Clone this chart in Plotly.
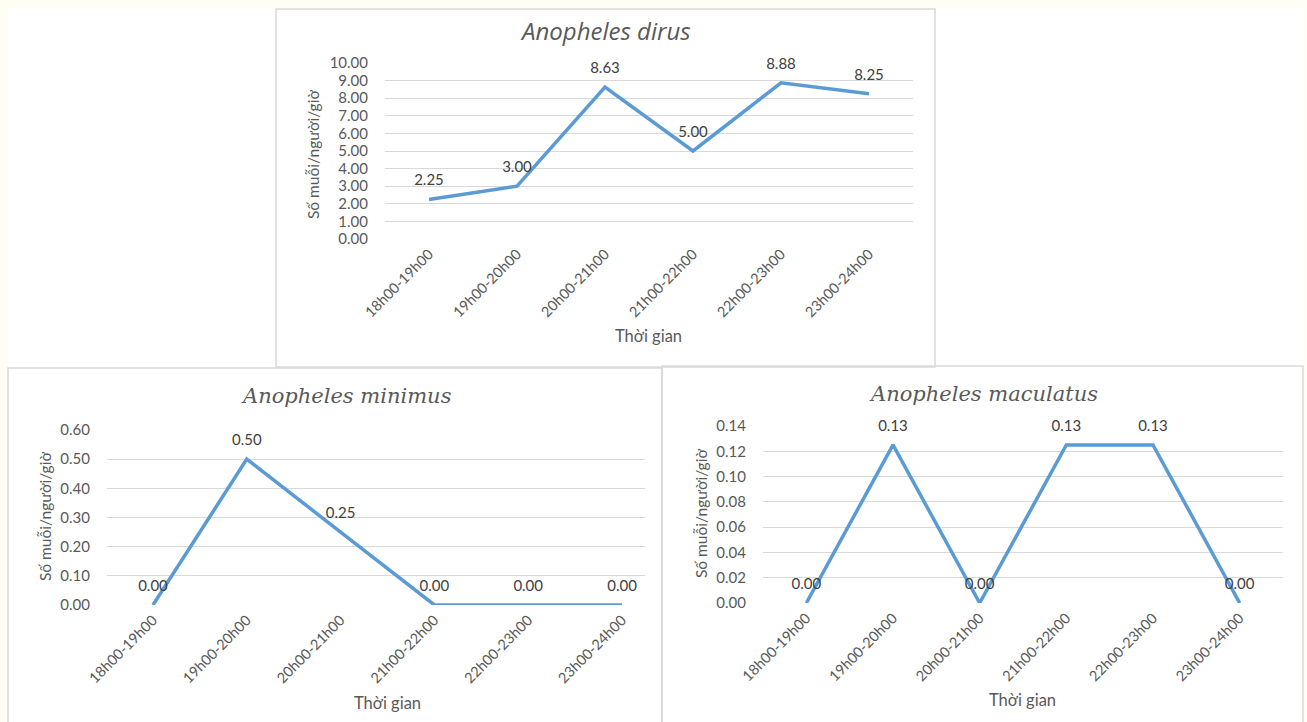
import plotly.graph_objects as go

W, H = 1307, 722

periods = ["18h00-19h00", "19h00-20h00", "20h00-21h00",
           "21h00-22h00", "22h00-23h00", "23h00-24h00"]

dirus = [2.25, 3.00, 8.625, 5.00, 8.875, 8.25]
minimus = [0.00, 0.50, 0.25, 0.00, 0.00, 0.00]
maculatus = [0.00, 0.125, 0.00, 0.125, 0.125, 0.00]

dirus_ticks = [0, 1, 2, 3, 4, 5, 6, 7, 8, 9, 10]
minimus_ticks = [0, 0.1, 0.2, 0.3, 0.4, 0.5, 0.6]
maculatus_ticks = [0, 0.02, 0.04, 0.06, 0.08, 0.10, 0.12, 0.14]

y_title = "Số muỗi/người/giờ"
x_title = "Thời gian"

LINE = "#5B9BD5"
GRID = "#D9D9D9"
TICK = "#595959"
LABEL = "#404040"
BORDER = "#D9D9D9"
PAGE = "#FFFEF4"
SANS = "Lato, Open Sans, sans-serif"


def px(x):
    return x / W


def py(y):
    return 1 - y / H


fig = go.Figure()

panels = [
    # series, ticks, axis suffix, plot box (left, right, top, bottom) in px,
    # category range
    (dirus, dirus_ticks, "", (385, 913, 63, 239), [-0.5, 5.5]),
    (minimus, minimus_ticks, "2", (107, 645, 430, 605), [-0.49, 5.245]),
    (maculatus, maculatus_ticks, "3", (763, 1283, 426, 603), [-0.5, 5.5]),
]

for values, ticks, sfx, (l, r, t, b), xr in panels:
    fig.add_trace(go.Scatter(
        x=periods, y=values,
        mode="lines+markers+text",
        line=dict(color=LINE, width=3.5),
        marker=dict(size=15, color="rgba(0,0,0,0)"),
        texttemplate="%{y:.2f}",
        textposition="top center",
        textfont=dict(family=SANS, size=15, color=LABEL),
        cliponaxis=False,
        hoverinfo="skip",
        showlegend=False,
        xaxis="x" + sfx, yaxis="y" + sfx,
    ))
    fig.update_layout(**{
        "xaxis" + sfx: dict(
            domain=[px(l), px(r)], anchor="y" + sfx,
            type="category", range=xr, tickangle=-45, automargin=False,
            showgrid=False, zeroline=False, showline=False,
            ticks="", ticklabelstandoff=3,
            tickfont=dict(family=SANS, size=14.5, color=TICK),
            fixedrange=True,
        ),
        "yaxis" + sfx: dict(
            domain=[py(b), py(t)], anchor="x" + sfx,
            range=[ticks[0], ticks[-1]], tickvals=ticks,
            tickformat=".2f", automargin=False,
            showgrid=True, gridcolor=GRID, gridwidth=1,
            zeroline=False, showline=False, ticks="",
            ticklabelstandoff=16,
            tickfont=dict(family=SANS, size=15, color=TICK),
            fixedrange=True,
        ),
    })

shapes = [
    # white sheet behind the three chart panels
    dict(type="rect", xref="paper", yref="paper", layer="below",
         x0=px(8), x1=px(1304), y0=py(722), y1=py(8),
         fillcolor="white", line=dict(width=0)),
    # panel frames
    dict(type="rect", xref="paper", yref="paper", layer="below",
         x0=px(276), x1=px(935), y0=py(367), y1=py(9),
         fillcolor="rgba(0,0,0,0)", line=dict(color=BORDER, width=1.5)),
    dict(type="rect", xref="paper", yref="paper", layer="below",
         x0=px(8), x1=px(662), y0=py(724), y1=py(368),
         fillcolor="rgba(0,0,0,0)", line=dict(color=BORDER, width=1.5)),
    dict(type="rect", xref="paper", yref="paper", layer="below",
         x0=px(662), x1=px(1303), y0=py(724), y1=py(366),
         fillcolor="rgba(0,0,0,0)", line=dict(color=BORDER, width=1.5)),
]

annotations = []


def text(x, y, s, size, color, family=SANS, angle=0):
    annotations.append(dict(
        x=px(x), y=py(y), xref="paper", yref="paper", text=s,
        showarrow=False, textangle=angle, xanchor="center", yanchor="middle",
        font=dict(family=family, size=size, color=color),
    ))


# chart titles
text(605, 30, "<i>Anopheles dirus</i>", 24, TICK, "Open Sans, sans-serif")
text(346, 396, "<i>Anopheles minimus</i>", 21, TICK, "DejaVu Serif, serif")
text(983, 394, "<i>Anopheles maculatus</i>", 21, TICK, "DejaVu Serif, serif")

# axis titles
text(313, 155, y_title, 15.5, TICK, angle=-90)
text(45, 517, y_title, 15.5, TICK, angle=-90)
text(701, 514, y_title, 15.5, TICK, angle=-90)
text(648, 336, x_title, 16.5, TICK)
text(387, 703, x_title, 16.5, TICK)
text(1022, 700, x_title, 16.5, TICK)

fig.update_layout(
    width=W, height=H,
    margin=dict(l=0, r=0, t=0, b=0, autoexpand=False),
    paper_bgcolor=PAGE, plot_bgcolor="rgba(0,0,0,0)",
    shapes=shapes, annotations=annotations,
)

fig.write_html("out.html", post_script="document.body.style.margin='0';")
